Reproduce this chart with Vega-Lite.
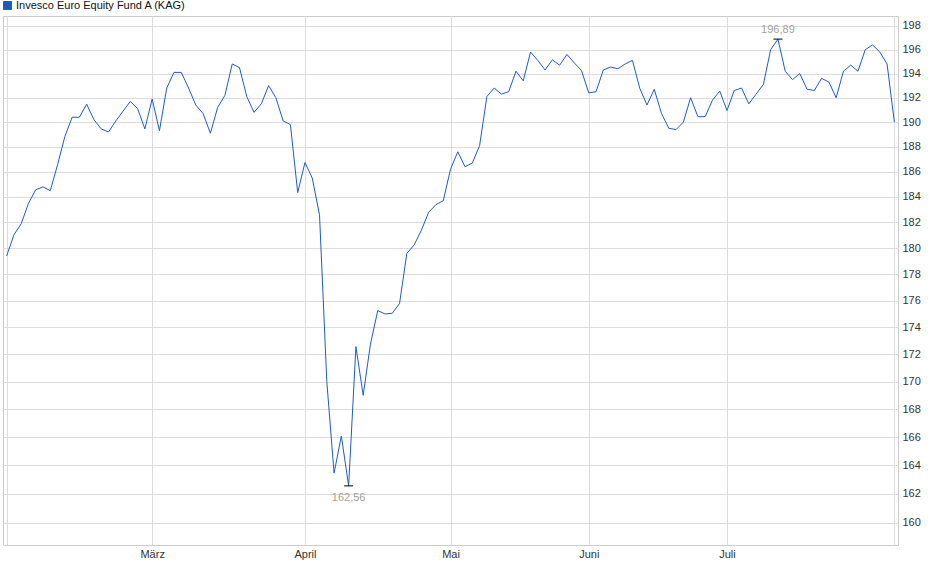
{
  "$schema": "https://vega.github.io/schema/vega-lite/v6.json",
  "width": 895,
  "height": 529,
  "autosize": {"type": "none"},
  "padding": {"left": 3, "top": 16, "right": 42, "bottom": 34},
  "background": "white",
  "config": {
    "font": "Liberation Sans",
    "view": {"stroke": "#cccccc", "strokeWidth": 1},
    "axis": {"gridColor": "#dcdcdc", "gridWidth": 1, "domain": false, "ticks": false, "labelFontSize": 11, "labelColor": "#333333", "title": null},
    "locale": {"number": {"decimal": ",", "thousands": ".", "grouping": [3], "currency": ["", " €"]}}
  },
  "data": {
    "values": [
      {"t": 1, "v": 179.4}, {"t": 2, "v": 181.04}, {"t": 3, "v": 181.9}, {"t": 4, "v": 183.5},
      {"t": 5, "v": 184.57}, {"t": 6, "v": 184.8}, {"t": 7, "v": 184.5}, {"t": 8, "v": 186.56},
      {"t": 9, "v": 188.83}, {"t": 10, "v": 190.4}, {"t": 11, "v": 190.4}, {"t": 12, "v": 191.47},
      {"t": 13, "v": 190.2}, {"t": 14, "v": 189.45}, {"t": 15, "v": 189.2}, {"t": 16, "v": 190.1},
      {"t": 17, "v": 190.9}, {"t": 18, "v": 191.7}, {"t": 19, "v": 191.1}, {"t": 20, "v": 189.45},
      {"t": 21, "v": 191.9}, {"t": 22, "v": 189.3}, {"t": 23, "v": 192.8}, {"t": 24, "v": 194.1},
      {"t": 25, "v": 194.1}, {"t": 26, "v": 192.8}, {"t": 27, "v": 191.4}, {"t": 28, "v": 190.7},
      {"t": 29, "v": 189.1}, {"t": 30, "v": 191.2}, {"t": 31, "v": 192.2}, {"t": 32, "v": 194.8},
      {"t": 33, "v": 194.5}, {"t": 34, "v": 192.1}, {"t": 35, "v": 190.8}, {"t": 36, "v": 191.5},
      {"t": 37, "v": 193.0}, {"t": 38, "v": 192.0}, {"t": 39, "v": 190.1}, {"t": 40, "v": 189.8},
      {"t": 41, "v": 184.35}, {"t": 42, "v": 186.74}, {"t": 43, "v": 185.5}, {"t": 44, "v": 182.6},
      {"t": 45, "v": 170.0}, {"t": 46, "v": 163.45}, {"t": 47, "v": 166.07}, {"t": 48, "v": 162.56},
      {"t": 49, "v": 172.56}, {"t": 50, "v": 169.0}, {"t": 51, "v": 172.75}, {"t": 52, "v": 175.25},
      {"t": 53, "v": 175.0}, {"t": 54, "v": 175.05}, {"t": 55, "v": 175.8}, {"t": 56, "v": 179.6},
      {"t": 57, "v": 180.25}, {"t": 58, "v": 181.4}, {"t": 59, "v": 182.8}, {"t": 60, "v": 183.4},
      {"t": 61, "v": 183.7}, {"t": 62, "v": 186.2}, {"t": 63, "v": 187.6}, {"t": 64, "v": 186.4},
      {"t": 65, "v": 186.7}, {"t": 66, "v": 188.1}, {"t": 67, "v": 192.1}, {"t": 68, "v": 192.8},
      {"t": 69, "v": 192.3}, {"t": 70, "v": 192.5}, {"t": 71, "v": 194.2}, {"t": 72, "v": 193.4},
      {"t": 73, "v": 195.8}, {"t": 74, "v": 195.1}, {"t": 75, "v": 194.3}, {"t": 76, "v": 195.15},
      {"t": 77, "v": 194.7}, {"t": 78, "v": 195.6}, {"t": 79, "v": 194.9}, {"t": 80, "v": 194.25},
      {"t": 81, "v": 192.4}, {"t": 82, "v": 192.5}, {"t": 83, "v": 194.3}, {"t": 84, "v": 194.55},
      {"t": 85, "v": 194.4}, {"t": 86, "v": 194.8}, {"t": 87, "v": 195.1}, {"t": 88, "v": 192.8},
      {"t": 89, "v": 191.4}, {"t": 90, "v": 192.7}, {"t": 91, "v": 190.7}, {"t": 92, "v": 189.5},
      {"t": 93, "v": 189.4}, {"t": 94, "v": 190.0}, {"t": 95, "v": 192.0}, {"t": 96, "v": 190.45},
      {"t": 97, "v": 190.45}, {"t": 98, "v": 191.8}, {"t": 99, "v": 192.55}, {"t": 100, "v": 190.95},
      {"t": 101, "v": 192.6}, {"t": 102, "v": 192.8}, {"t": 103, "v": 191.5}, {"t": 104, "v": 192.3},
      {"t": 105, "v": 193.1}, {"t": 106, "v": 196.0}, {"t": 107, "v": 196.89}, {"t": 108, "v": 194.2},
      {"t": 109, "v": 193.5}, {"t": 110, "v": 194.0}, {"t": 111, "v": 192.7}, {"t": 112, "v": 192.6},
      {"t": 113, "v": 193.6}, {"t": 114, "v": 193.3}, {"t": 115, "v": 192.0}, {"t": 116, "v": 194.2},
      {"t": 117, "v": 194.7}, {"t": 118, "v": 194.2}, {"t": 119, "v": 196.0}, {"t": 120, "v": 196.4},
      {"t": 121, "v": 195.8}, {"t": 122, "v": 194.8}, {"t": 123, "v": 190.0}
    ]
  },
  "encoding": {
    "x": {
      "field": "t",
      "type": "quantitative",
      "scale": {"domain": [0.5, 123.5], "nice": false, "zero": false},
      "axis": {
        "values": [1, 21, 42, 62, 81, 100, 123],
        "labelExpr": "datum.value == 21 ? 'März' : datum.value == 42 ? 'April' : datum.value == 62 ? 'Mai' : datum.value == 81 ? 'Juni' : datum.value == 100 ? 'Juli' : ''",
        "labelPadding": 3,
        "labelFlush": false,
        "labelOverlap": false
      }
    },
    "y": {
      "field": "v",
      "type": "quantitative",
      "scale": {"type": "log", "domain": [158.49, 198.85], "nice": false, "zero": false},
      "axis": {
        "orient": "right",
        "values": [160, 162, 164, 166, 168, 170, 172, 174, 176, 178, 180, 182, 184, 186, 188, 190, 192, 194, 196, 198],
        "format": "d",
        "labelPadding": 4,
        "labelFlush": false,
        "labelOverlap": false
      }
    }
  },
  "layer": [
    {
      "mark": {"type": "line", "strokeWidth": 1, "interpolate": "linear"},
      "encoding": {
        "color": {
          "datum": "Invesco Euro Equity Fund A (KAG)",
          "scale": {"range": ["#1f5cc4"]},
          "legend": {
            "title": null,
            "orient": "none",
            "legendX": -1,
            "legendY": -16,
            "padding": 0,
            "symbolType": "square",
            "symbolSize": 64,
            "labelFontSize": 11,
            "labelColor": "#111111",
            "labelOffset": 3,
            "labelLimit": 0,
            "encode": {"symbols": {"update": {"fill": {"value": "#1f58b8"}, "stroke": {"value": "#0d2766"}, "strokeWidth": {"value": 1}, "opacity": {"value": 1}}}}
          }
        }
      }
    },
    {
      "transform": [{"filter": "datum.t == 107 || datum.t == 48"}],
      "mark": {"type": "point", "shape": "M-1,0L1,0", "size": 81, "filled": false, "stroke": "black", "strokeWidth": 1, "opacity": 1}
    },
    {
      "transform": [{"filter": "datum.t == 107"}],
      "mark": {"type": "text", "fontSize": 11, "color": "#a89f94", "baseline": "middle", "dy": -9},
      "encoding": {"text": {"field": "v", "type": "quantitative", "format": ".2f"}}
    },
    {
      "transform": [{"filter": "datum.t == 48"}],
      "mark": {"type": "text", "fontSize": 11, "color": "#a89f94", "baseline": "middle", "dy": 12},
      "encoding": {"text": {"field": "v", "type": "quantitative", "format": ".2f"}}
    }
  ]
}
